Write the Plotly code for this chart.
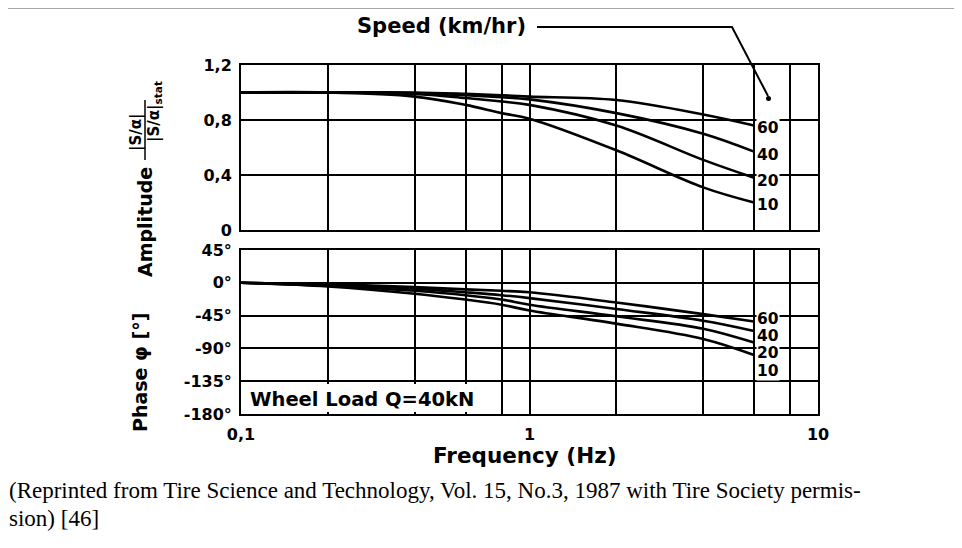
import plotly.graph_objects as go

# ---------------- data ----------------
freq = [0.1, 0.2, 0.4, 0.6, 0.8, 1.0, 2.0, 4.0, 6.0]
speeds = ["60", "40", "20", "10"]

amp_60 = [1.0, 1.0, 1.0, 0.99, 0.98, 0.97, 0.945, 0.84, 0.76]
amp_40 = [1.0, 1.0, 0.995, 0.98, 0.965, 0.95, 0.85, 0.70, 0.57]
amp_20 = [1.0, 1.0, 0.99, 0.96, 0.935, 0.91, 0.76, 0.51, 0.38]
amp_10 = [1.0, 1.0, 0.97, 0.91, 0.85, 0.81, 0.58, 0.31, 0.20]

ph_60 = [0, -2, -6, -9, -11, -13, -27, -43, -53]
ph_40 = [0, -3, -8, -13, -17, -21, -36, -52, -66]
ph_20 = [0, -4, -11, -17, -23, -30, -46, -63, -82]
ph_10 = [0, -5, -15, -23, -30, -38, -56, -77, -99]

x_grid = [0.1, 0.2, 0.4, 0.6, 0.8, 1, 2, 4, 6, 8, 10]
x_ticktext = ["0,1", " ", " ", " ", " ", "1", " ", " ", " ", " ", "10"]
amp_ticks = [0, 0.4, 0.8, 1.2]
amp_ticktext = ["0", "0,4", "0,8", "1,2"]
ph_ticks = [-180, -135, -90, -45, 0, 45]
ph_ticktext = ["-180°", "-135°", "-90°", "-45°", "0°", "45°"]
ph_label_y = [-50, -73, -96, -121]   # stacked label positions in phase panel

caption1 = "(Reprinted from Tire Science and Technology, Vol. 15, No.3, 1987 with Tire Society permis-"
caption2 = "sion) [46]"

# ---------------- figure ----------------
W, H = 962, 548
OFF = 8  # page body margin of the exported html
def px(x):
    return (x - OFF) / W
def py(y):
    return 1 - (y - OFF) / H

amps = [amp_60, amp_40, amp_20, amp_10]
phs = [ph_60, ph_40, ph_20, ph_10]

fig = go.Figure()
for s, a in zip(speeds, amps):
    fig.add_trace(go.Scatter(x=freq, y=a, mode="lines", line=dict(color="black", width=2.6, shape="spline"),
                             xaxis="x", yaxis="y", showlegend=False, hoverinfo="skip"))
for s, p in zip(speeds, phs):
    fig.add_trace(go.Scatter(x=freq, y=p, mode="lines", line=dict(color="black", width=2.6, shape="spline"),
                             xaxis="x2", yaxis="y2", showlegend=False, hoverinfo="skip"))

tickfont = dict(family="DejaVu Sans", size=16, color="black", weight="bold")
axis_common = dict(showline=True, mirror=True, linecolor="black", linewidth=2,
                   showgrid=True, gridcolor="black", gridwidth=2, zeroline=False,
                   ticks="", tickfont=tickfont, automargin=False)

fig.update_layout(
    width=W, height=H,
    margin=dict(l=0, r=0, t=0, b=0, pad=0, autoexpand=False),
    paper_bgcolor="white", plot_bgcolor="white",
    xaxis=dict(type="log", range=[-1, 1], domain=[px(241), px(818)], anchor="y",
               tickvals=x_grid, showticklabels=False, **axis_common),
    yaxis=dict(range=[0, 1.2], domain=[py(230), py(65)], anchor="x",
               tickvals=amp_ticks, ticktext=amp_ticktext, ticklabelstandoff=4, **axis_common),
    xaxis2=dict(type="log", range=[-1, 1], domain=[px(241), px(818)], anchor="y2",
                tickvals=x_grid, ticktext=x_ticktext, ticklabelstandoff=5, **axis_common),
    yaxis2=dict(range=[-180, 45], domain=[py(414), py(250)], anchor="x2",
                tickvals=ph_ticks, ticktext=ph_ticktext, ticklabelstandoff=4, **axis_common),
)

shapes = []
annotations = []
lab_font = dict(family="DejaVu Sans", size=15.5, color="black", weight="bold")

# speed labels at curve ends (amplitude)
for s, a in zip(speeds, amps):
    annotations.append(dict(x=0.79, y=a[-1], xref="x", yref="y", text=s, showarrow=False,
                            xanchor="left", yanchor="middle", yshift=-3, xshift=-1, font=lab_font,
                            bgcolor="white", borderpad=0))
# speed labels (phase, stacked)
for s, ly in zip(speeds, ph_label_y):
    annotations.append(dict(x=0.79, y=ly, xref="x2", yref="y2", text=s, showarrow=False,
                            xanchor="left", yanchor="middle", xshift=-1, font=lab_font,
                            bgcolor="white", borderpad=0))

# Speed header with leader line
annotations.append(dict(x=px(441), y=py(26), xref="paper", yref="paper", text="Speed (km/hr)",
                        showarrow=False, xanchor="center", yanchor="middle",
                        font=dict(family="DejaVu Sans", size=21, color="black", weight="bold")))
shapes.append(dict(type="path", xref="paper", yref="paper",
                   path=f"M {px(537)} {py(27)} L {px(732)} {py(27)} L {px(768)} {py(96)}",
                   line=dict(color="black", width=2)))
shapes.append(dict(type="circle", xref="paper", yref="paper",
                   x0=px(766), x1=px(771), y0=py(101), y1=py(96),
                   fillcolor="black", line=dict(color="black", width=0)))

# Wheel load box
shapes.append(dict(type="rect", xref="paper", yref="paper", layer="above",
                   x0=px(243), x1=px(490), y0=py(412), y1=py(384),
                   fillcolor="white", line=dict(width=0)))
annotations.append(dict(x=px(248), y=py(399), xref="paper", yref="paper", text="Wheel Load Q=40kN",
                        showarrow=False, xanchor="left", yanchor="middle",
                        font=dict(family="DejaVu Sans", size=19.5, color="black", weight="bold")))

# Frequency axis title
annotations.append(dict(x=px(525), y=py(455), xref="paper", yref="paper", text="Frequency (Hz)",
                        showarrow=False, xanchor="center", yanchor="middle",
                        font=dict(family="DejaVu Sans", size=21.5, color="black", weight="bold")))

# Y titles (rotated)
ytfont = dict(family="DejaVu Sans", size=19, color="black", weight="bold")
annotations.append(dict(x=px(145), y=py(222), xref="paper", yref="paper", text="Amplitude",
                        showarrow=False, textangle=-90, xanchor="center", yanchor="middle", font=ytfont))
annotations.append(dict(x=px(140), y=py(373), xref="paper", yref="paper", text="Phase φ [°]",
                        showarrow=False, textangle=-90, xanchor="center", yanchor="middle", font=ytfont))
frfont = dict(family="DejaVu Sans", size=15, color="black", weight="bold")
annotations.append(dict(x=px(136), y=py(132), xref="paper", yref="paper", text="|S/α|",
                        showarrow=False, textangle=-90, xanchor="center", yanchor="middle", font=frfont))
annotations.append(dict(x=px(154), y=py(112), xref="paper", yref="paper", text="|S/α|<sub>stat</sub>",
                        showarrow=False, textangle=-90, xanchor="center", yanchor="middle", font=frfont))
shapes.append(dict(type="line", xref="paper", yref="paper",
                   x0=px(145), x1=px(145), y0=py(160), y1=py(100),
                   line=dict(color="black", width=1.5)))

# top gray rule
shapes.append(dict(type="line", xref="paper", yref="paper", x0=0, x1=1, y0=py(8), y1=py(8),
                   line=dict(color="#8a8a8a", width=1.5)))

# caption
capfont = dict(family="Liberation Serif", size=23, color="black")
annotations.append(dict(x=px(7), y=py(490), xref="paper", yref="paper", text=caption1,
                        showarrow=False, xanchor="left", yanchor="middle", font=capfont))
annotations.append(dict(x=px(7), y=py(518), xref="paper", yref="paper", text=caption2,
                        showarrow=False, xanchor="left", yanchor="middle", font=capfont))

fig.update_layout(shapes=shapes, annotations=annotations)
fig.write_html("out.html")
